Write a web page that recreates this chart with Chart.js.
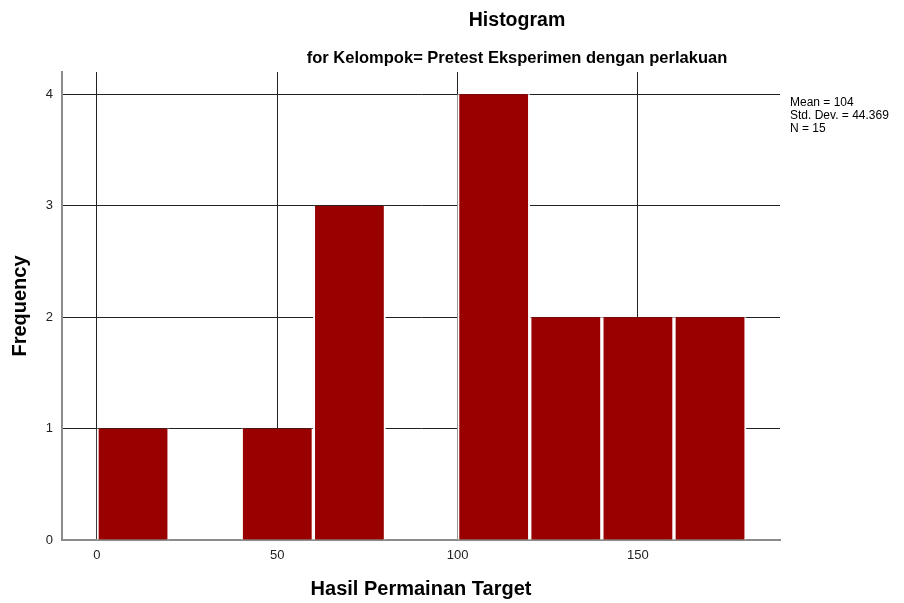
<!DOCTYPE html>
<html>
<head>
<meta charset="utf-8">
<script src="https://cdn.jsdelivr.net/npm/chart.js@4"></script>
<style>
  html, body { margin: 0; padding: 0; background: #fff; }
  #wrap { width: 904px; height: 603px; }
</style>
</head>
<body>
<div id="wrap"><canvas id="hist"></canvas></div>
<script>
// histogram bins (width 20), centres and counts
const binCenters = [10, 30, 50, 70, 90, 110, 130, 150, 170]
const counts = [1, 0, 1, 3, 0, 4, 2, 2, 2]
const xTicks = [0, 50, 100, 150]
const yTicks = [0, 1, 2, 3, 4]
const statsLines = ['Mean = 104', 'Std. Dev. = 44.369', 'N = 15']

const FONT = "'Liberation Sans', Arial, sans-serif"

// titles + stats box drawn on top
const textPlugin = {
    id: 'spssText',
    afterDraw(chart) {
        const c = chart.ctx
        c.save()
        c.fillStyle = '#000'
        c.textAlign = 'center'
        c.textBaseline = 'middle'
        c.font = 'bold 19.5px ' + FONT
        c.fillText('Histogram', 517, 21)
        c.font = 'bold 16.5px ' + FONT
        c.fillText('for Kelompok= Pretest Eksperimen dengan perlakuan', 517, 58)
        c.textAlign = 'left'
        c.font = '12px ' + FONT
        statsLines.forEach((s, i) => c.fillText(s, 790, 103 + i * 13))
        c.restore()
    }
}

const ctx = document.getElementById('hist').getContext('2d')

const chart = new Chart(ctx, {
    type: 'bar',
    data: {
        datasets: [{
            data: binCenters.map((x, i) => ({x: x, y: counts[i]})),
            backgroundColor: '#990000',
            borderColor: '#ffffff',
            borderWidth: {left: 2, right: 2, top: 0, bottom: 0},
            barPercentage: 1,
            categoryPercentage: 1
        }]
    },
    options: {
        responsive: true,
        maintainAspectRatio: false,
        animation: false,
        layout: {
            padding: {top: 72, right: 124, left: 0, bottom: 0}
        },
        plugins: {
            legend: {display: false},
            tooltip: {enabled: false}
        },
        scales: {
            x: {
                type: 'linear',
                min: -9.7,
                max: 189.4,
                offset: false,
                afterBuildTicks: (s) => { s.ticks = xTicks.map(v => ({value: v})) },
                afterFit: (s) => { s.height = 63 },
                grid: {
                    offset: false,
                    drawTicks: false,
                    color: '#222',
                    lineWidth: 1
                },
                border: {color: '#8c8c8c', width: 2},
                ticks: {
                    color: '#222',
                    padding: 8,
                    font: {family: FONT, size: 13}
                },
                title: {
                    display: true,
                    text: 'Hasil Permainan Target',
                    color: '#000',
                    padding: {top: 0, bottom: 2},
                    font: {family: FONT, size: 20, weight: 'bold'}
                }
            },
            y: {
                min: 0,
                max: 4.2,
                afterBuildTicks: (s) => { s.ticks = yTicks.map(v => ({value: v})) },
                afterFit: (s) => { s.width = 62 },
                grid: {
                    drawTicks: false,
                    color: '#222',
                    lineWidth: 1
                },
                border: {color: '#8c8c8c', width: 2},
                ticks: {
                    color: '#222',
                    padding: 9,
                    font: {family: FONT, size: 13}
                },
                title: {
                    display: true,
                    text: 'Frequency',
                    color: '#000',
                    padding: {top: 8, bottom: 0},
                    font: {family: FONT, size: 20, weight: 'bold'}
                }
            }
        }
    },
    plugins: [textPlugin]
})
</script>
</body>
</html>
